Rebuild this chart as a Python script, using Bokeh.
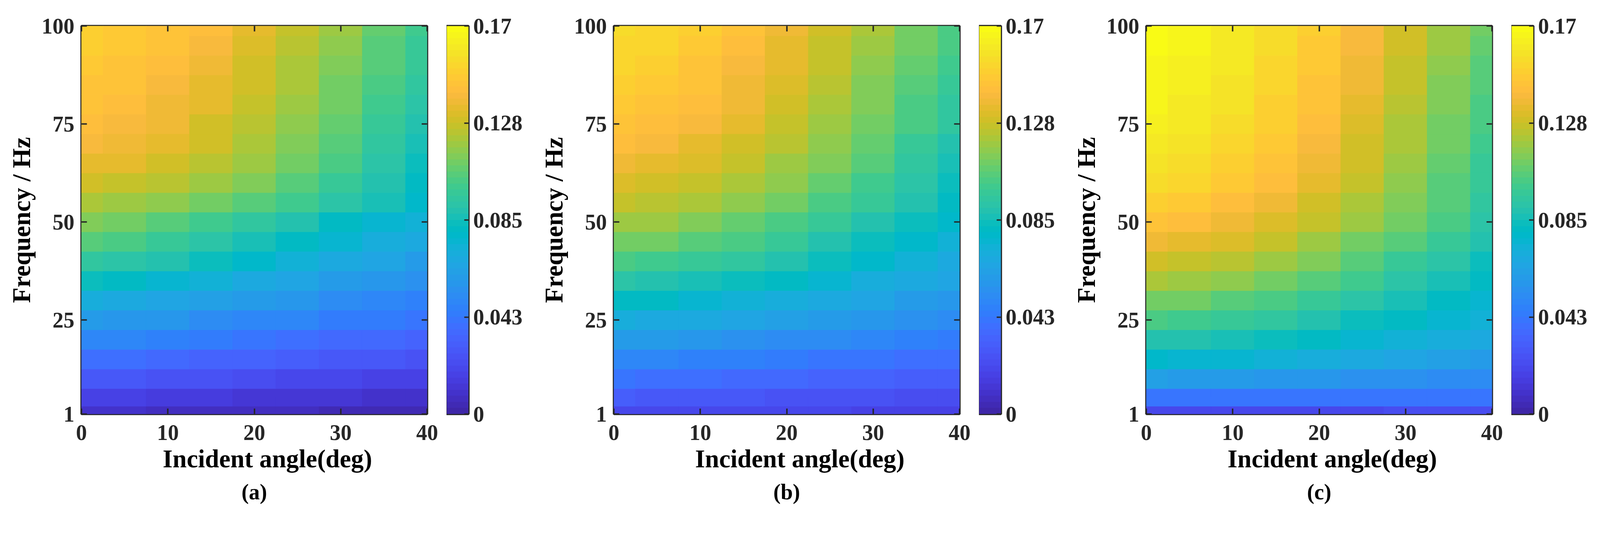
import numpy as np
from bokeh.plotting import figure
from bokeh.models import (LinearColorMapper, FixedTicker, LinearAxis, Title,
                          ColumnDataSource, Range1d)
from bokeh.layouts import row
from bokeh.embed import file_html
from bokeh.resources import INLINE

# ---------------- data ----------------
angles = [0, 5, 10, 15, 20, 25, 30, 35, 40]
freqs = [1, 5, 10, 15, 20, 25, 30, 35, 40, 45, 50, 55, 60, 65, 70, 75, 80, 85, 90, 95, 100]

# rows follow freqs (ascending), columns follow angles
values_a = [
    [0.008, 0.008, 0.007, 0.007, 0.006, 0.006, 0.005, 0.005, 0.005],
    [0.017, 0.016, 0.015, 0.014, 0.013, 0.012, 0.011, 0.010, 0.010],
    [0.028, 0.027, 0.026, 0.024, 0.022, 0.021, 0.019, 0.018, 0.018],
    [0.039, 0.038, 0.036, 0.034, 0.032, 0.030, 0.028, 0.027, 0.026],
    [0.049, 0.048, 0.046, 0.044, 0.041, 0.039, 0.037, 0.035, 0.033],
    [0.060, 0.058, 0.056, 0.053, 0.050, 0.048, 0.045, 0.043, 0.041],
    [0.071, 0.069, 0.066, 0.063, 0.060, 0.056, 0.053, 0.050, 0.047],
    [0.083, 0.080, 0.077, 0.073, 0.069, 0.065, 0.061, 0.057, 0.054],
    [0.095, 0.092, 0.088, 0.084, 0.079, 0.074, 0.069, 0.065, 0.061],
    [0.104, 0.101, 0.097, 0.092, 0.087, 0.081, 0.076, 0.071, 0.067],
    [0.112, 0.109, 0.105, 0.100, 0.094, 0.088, 0.082, 0.077, 0.073],
    [0.120, 0.118, 0.115, 0.111, 0.105, 0.099, 0.092, 0.085, 0.078],
    [0.128, 0.126, 0.123, 0.118, 0.112, 0.105, 0.097, 0.089, 0.081],
    [0.135, 0.133, 0.129, 0.124, 0.118, 0.110, 0.101, 0.092, 0.084],
    [0.139, 0.137, 0.133, 0.128, 0.121, 0.113, 0.104, 0.095, 0.087],
    [0.142, 0.140, 0.136, 0.130, 0.124, 0.116, 0.107, 0.098, 0.090],
    [0.144, 0.142, 0.138, 0.133, 0.126, 0.118, 0.109, 0.100, 0.092],
    [0.146, 0.144, 0.140, 0.135, 0.128, 0.120, 0.111, 0.102, 0.094],
    [0.148, 0.146, 0.142, 0.137, 0.130, 0.122, 0.113, 0.104, 0.096],
    [0.149, 0.147, 0.144, 0.139, 0.132, 0.124, 0.115, 0.106, 0.098],
    [0.150, 0.148, 0.145, 0.141, 0.134, 0.126, 0.117, 0.108, 0.100],
]

values_b = [
    [0.021, 0.021, 0.020, 0.020, 0.019, 0.019, 0.018, 0.018, 0.018],
    [0.030, 0.029, 0.028, 0.027, 0.026, 0.025, 0.024, 0.023, 0.023],
    [0.040, 0.039, 0.038, 0.036, 0.035, 0.034, 0.032, 0.031, 0.030],
    [0.050, 0.049, 0.047, 0.046, 0.044, 0.042, 0.041, 0.039, 0.038],
    [0.060, 0.059, 0.057, 0.055, 0.053, 0.051, 0.049, 0.047, 0.045],
    [0.071, 0.069, 0.067, 0.065, 0.062, 0.059, 0.056, 0.054, 0.052],
    [0.081, 0.080, 0.077, 0.074, 0.071, 0.068, 0.064, 0.061, 0.058],
    [0.092, 0.090, 0.087, 0.084, 0.080, 0.076, 0.071, 0.067, 0.064],
    [0.102, 0.100, 0.097, 0.093, 0.088, 0.083, 0.078, 0.073, 0.069],
    [0.111, 0.109, 0.105, 0.101, 0.096, 0.090, 0.084, 0.079, 0.074],
    [0.119, 0.117, 0.113, 0.108, 0.103, 0.097, 0.090, 0.084, 0.078],
    [0.126, 0.124, 0.120, 0.115, 0.109, 0.103, 0.096, 0.088, 0.081],
    [0.132, 0.130, 0.126, 0.121, 0.115, 0.108, 0.100, 0.092, 0.084],
    [0.137, 0.135, 0.131, 0.126, 0.119, 0.112, 0.104, 0.095, 0.087],
    [0.141, 0.139, 0.135, 0.130, 0.123, 0.115, 0.107, 0.098, 0.090],
    [0.145, 0.143, 0.139, 0.133, 0.126, 0.118, 0.110, 0.101, 0.093],
    [0.148, 0.146, 0.142, 0.136, 0.129, 0.121, 0.112, 0.103, 0.095],
    [0.151, 0.148, 0.144, 0.138, 0.131, 0.123, 0.114, 0.105, 0.097],
    [0.153, 0.150, 0.146, 0.140, 0.133, 0.125, 0.116, 0.107, 0.099],
    [0.154, 0.152, 0.148, 0.142, 0.135, 0.127, 0.118, 0.109, 0.101],
    [0.155, 0.153, 0.149, 0.144, 0.137, 0.129, 0.120, 0.111, 0.103],
]

values_c = [
    [0.020, 0.020, 0.020, 0.021, 0.021, 0.021, 0.022, 0.022, 0.022],
    [0.042, 0.042, 0.041, 0.041, 0.040, 0.040, 0.040, 0.040, 0.040],
    [0.062, 0.061, 0.060, 0.058, 0.057, 0.055, 0.054, 0.053, 0.052],
    [0.078, 0.077, 0.075, 0.073, 0.070, 0.068, 0.065, 0.063, 0.061],
    [0.090, 0.089, 0.086, 0.083, 0.080, 0.077, 0.073, 0.070, 0.067],
    [0.101, 0.099, 0.096, 0.093, 0.089, 0.084, 0.080, 0.076, 0.072],
    [0.111, 0.109, 0.106, 0.102, 0.097, 0.092, 0.086, 0.081, 0.076],
    [0.120, 0.118, 0.115, 0.110, 0.105, 0.099, 0.092, 0.086, 0.080],
    [0.129, 0.127, 0.123, 0.118, 0.112, 0.105, 0.098, 0.091, 0.084],
    [0.137, 0.135, 0.131, 0.125, 0.119, 0.111, 0.104, 0.096, 0.088],
    [0.144, 0.142, 0.138, 0.132, 0.125, 0.117, 0.110, 0.101, 0.092],
    [0.150, 0.147, 0.143, 0.137, 0.129, 0.121, 0.113, 0.104, 0.095],
    [0.155, 0.152, 0.147, 0.141, 0.133, 0.125, 0.116, 0.106, 0.097],
    [0.158, 0.155, 0.150, 0.144, 0.136, 0.128, 0.118, 0.108, 0.098],
    [0.161, 0.158, 0.153, 0.147, 0.139, 0.130, 0.120, 0.109, 0.099],
    [0.163, 0.160, 0.155, 0.149, 0.142, 0.132, 0.122, 0.111, 0.101],
    [0.165, 0.162, 0.157, 0.151, 0.144, 0.134, 0.124, 0.113, 0.103],
    [0.166, 0.163, 0.159, 0.153, 0.145, 0.136, 0.125, 0.114, 0.104],
    [0.167, 0.164, 0.160, 0.154, 0.147, 0.138, 0.127, 0.116, 0.106],
    [0.168, 0.165, 0.161, 0.155, 0.148, 0.139, 0.128, 0.118, 0.108],
    [0.168, 0.166, 0.162, 0.156, 0.149, 0.140, 0.129, 0.119, 0.110],
]

panels = [values_a, values_b, values_c]
panel_labels = ["(a)", "(b)", "(c)"]
x_ticks = [0, 10, 20, 30, 40]
y_ticks = [1, 25, 50, 75, 100]
cbar_ticks = [0, 0.0425, 0.085, 0.1275, 0.17]
cbar_labels = ["0", "0.043", "0.085", "0.128", "0.17"]
x_label = "Incident angle(deg)"
y_label = "Frequency / Hz"
v_low, v_high = 0.0, 0.17

# ---------------- style ----------------
PARULA_RGB = [
    (0.2422, 0.1504, 0.6603), (0.2504, 0.1650, 0.7076), (0.2578, 0.1818, 0.7511), (0.2647, 0.1978, 0.7952),
    (0.2706, 0.2147, 0.8364), (0.2751, 0.2342, 0.8710), (0.2783, 0.2559, 0.8991), (0.2803, 0.2782, 0.9221),
    (0.2813, 0.3006, 0.9414), (0.2810, 0.3228, 0.9579), (0.2795, 0.3447, 0.9717), (0.2760, 0.3667, 0.9829),
    (0.2699, 0.3892, 0.9906), (0.2602, 0.4123, 0.9952), (0.2440, 0.4358, 0.9988), (0.2206, 0.4603, 0.9973),
    (0.1963, 0.4847, 0.9892), (0.1834, 0.5074, 0.9798), (0.1786, 0.5289, 0.9682), (0.1764, 0.5499, 0.9520),
    (0.1687, 0.5703, 0.9359), (0.1540, 0.5902, 0.9218), (0.1460, 0.6091, 0.9079), (0.1380, 0.6276, 0.8973),
    (0.1248, 0.6459, 0.8883), (0.1113, 0.6635, 0.8763), (0.0952, 0.6798, 0.8598), (0.0689, 0.6948, 0.8394),
    (0.0297, 0.7082, 0.8163), (0.0036, 0.7203, 0.7917), (0.0067, 0.7312, 0.7660), (0.0433, 0.7411, 0.7394),
    (0.0964, 0.7500, 0.7120), (0.1408, 0.7584, 0.6842), (0.1717, 0.7670, 0.6554), (0.1938, 0.7758, 0.6251),
    (0.2161, 0.7843, 0.5923), (0.2470, 0.7918, 0.5567), (0.2906, 0.7973, 0.5188), (0.3406, 0.8008, 0.4789),
    (0.3909, 0.8029, 0.4354), (0.4456, 0.8024, 0.3909), (0.5044, 0.7993, 0.3480), (0.5616, 0.7942, 0.3045),
    (0.6174, 0.7876, 0.2612), (0.6720, 0.7793, 0.2227), (0.7242, 0.7698, 0.1910), (0.7738, 0.7598, 0.1646),
    (0.8203, 0.7498, 0.1535), (0.8634, 0.7406, 0.1596), (0.9035, 0.7330, 0.1774), (0.9393, 0.7288, 0.2100),
    (0.9728, 0.7298, 0.2394), (0.9956, 0.7434, 0.2371), (0.9970, 0.7659, 0.2199), (0.9952, 0.7893, 0.2028),
    (0.9892, 0.8136, 0.1885), (0.9786, 0.8386, 0.1766), (0.9676, 0.8639, 0.1643), (0.9610, 0.8890, 0.1537),
    (0.9597, 0.9135, 0.1423), (0.9628, 0.9373, 0.1265), (0.9691, 0.9606, 0.1064), (0.9769, 0.9839, 0.0805),
]
PARULA = ["#%02x%02x%02x" % tuple(int(round(c * 255)) for c in rgb) for rgb in PARULA_RGB]

S = 0.925  # page px per reference px


def px(v):
    return int(round(v * S))


def fs(v):
    return "%dpx" % px(v)


FONT = "Liberation Serif"
INK = "#262626"

FRAME_W, FRAME_H = px(957), px(1075)
LEFT_B, MAIN_RIGHT_B = px(214), px(54)
SHIFT_X = 10
TOP_B, BOTTOM_B = px(57) + 13, 232
CB_W = px(60)
PANEL_STEP = px(1474)
XLABEL_OFFSET = px(447 - 222)


def cell_edges(centers, lo, hi):
    c = np.asarray(centers, dtype=float)
    mids = (c[:-1] + c[1:]) / 2.0
    return np.concatenate([[lo], mids, [hi]])


def style_axis(ax):
    ax.axis_line_color = None
    ax.major_tick_line_color = INK
    ax.major_tick_line_width = 3.7
    ax.major_tick_out = 0
    ax.minor_tick_line_color = None
    ax.major_label_text_font = FONT
    ax.major_label_text_font_style = "bold"
    ax.major_label_text_font_size = fs(60)
    ax.major_label_text_color = INK


def make_main(vals, label, left_border):
    x_lo, x_hi = angles[0], angles[-1]
    y_lo, y_hi = freqs[0], freqs[-1]
    p = figure(frame_width=FRAME_W, frame_height=FRAME_H,
               x_range=Range1d(x_lo, x_hi), y_range=Range1d(y_lo, y_hi),
               output_backend="svg", toolbar_location=None,
               min_border_left=left_border, min_border_right=MAIN_RIGHT_B,
               min_border_top=TOP_B, min_border_bottom=BOTTOM_B,
               background_fill_color="white", border_fill_color="white")
    p.grid.visible = False

    xe = cell_edges(angles, x_lo, x_hi)
    ye = cell_edges(freqs, y_lo, y_hi)
    L, B = np.meshgrid(xe[:-1], ye[:-1])
    R, T = np.meshgrid(xe[1:], ye[1:])
    V = np.asarray(vals, dtype=float)
    src = ColumnDataSource(dict(left=L.ravel(), right=R.ravel(), bottom=B.ravel(),
                                top=T.ravel(), v=V.ravel()))
    mapper = LinearColorMapper(palette=PARULA, low=v_low, high=v_high)
    cmap = {"field": "v", "transform": mapper}
    p.quad(left="left", right="right", bottom="bottom", top="top", source=src,
           fill_color=cmap, line_color=cmap, line_width=1.2)

    p.outline_line_color = INK
    p.outline_line_width = 5.5
    p.outline_line_alpha = 1.0

    p.xaxis.ticker = FixedTicker(ticks=x_ticks)
    p.yaxis.ticker = FixedTicker(ticks=y_ticks)
    for ax in (p.xaxis[0], p.yaxis[0]):
        style_axis(ax)
        ax.major_tick_in = px(15)
    p.xaxis.major_label_standoff = px(20) + 10
    p.yaxis.major_label_standoff = px(20)
    p.yaxis.axis_label = y_label
    p.yaxis.axis_label_text_font = FONT
    p.yaxis.axis_label_text_font_style = "bold"
    p.yaxis.axis_label_text_font_size = fs(70)
    p.yaxis.axis_label_text_color = "black"
    p.yaxis.axis_label_standoff = px(14)

    top_ax = LinearAxis(ticker=FixedTicker(ticks=x_ticks),
                        major_label_overrides={t: "" for t in x_ticks})
    right_ax = LinearAxis(ticker=FixedTicker(ticks=y_ticks),
                          major_label_overrides={t: "" for t in y_ticks})
    for ax in (top_ax, right_ax):
        style_axis(ax)
        ax.major_tick_in = px(15)
        ax.major_label_standoff = 0
    p.add_layout(top_ax, "above")
    p.add_layout(right_ax, "right")

    # x-axis title (slightly right of centre, as in the source figure)
    p.add_layout(Title(text=x_label, align="left", offset=XLABEL_OFFSET,
                       text_font=FONT, text_font_style="bold",
                       text_font_size=fs(70), text_color="black",
                       standoff=15), "below")
    p.add_layout(Title(text=label, align="center", text_font=FONT,
                       text_font_style="bold", text_font_size=fs(60),
                       text_color="black", standoff=px(18)), "below")
    return p, mapper


def make_cbar(mapper, right_border):
    c = figure(frame_width=CB_W, frame_height=FRAME_H,
               x_range=Range1d(0, 1), y_range=Range1d(v_low, v_high),
               x_axis_location=None, y_axis_location="right",
               output_backend="svg", toolbar_location=None,
               min_border_left=0, min_border_right=right_border,
               min_border_top=TOP_B, min_border_bottom=BOTTOM_B,
               background_fill_color="white", border_fill_color="white")
    c.grid.visible = False
    grad = np.linspace(v_low, v_high, 256).reshape(256, 1)
    c.image(image=[grad], x=0, y=v_low, dw=1, dh=v_high - v_low, color_mapper=mapper)
    c.outline_line_color = INK
    c.outline_line_width = 5.5
    ax = c.yaxis[0]
    style_axis(ax)
    ax.ticker = FixedTicker(ticks=cbar_ticks)
    ax.major_label_overrides = {t: s for t, s in zip(cbar_ticks, cbar_labels)}
    ax.major_tick_in = px(12)
    ax.major_label_standoff = 12
    return c


children = []
main_w = LEFT_B + FRAME_W + MAIN_RIGHT_B
for i, (vals, lab) in enumerate(zip(panels, panel_labels)):
    lb = LEFT_B + SHIFT_X if i == 0 else LEFT_B
    p, mapper = make_main(vals, lab, lb)
    rb = PANEL_STEP - main_w - CB_W if i < 2 else 140
    cb = make_cbar(mapper, rb)
    children += [p, cb]

layout = row(*children)
open("out.html", "w").write(file_html(layout, INLINE))
